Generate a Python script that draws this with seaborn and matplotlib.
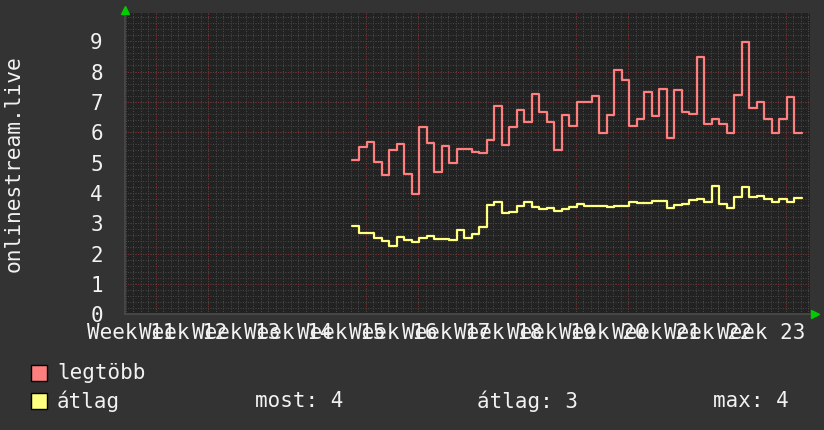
import numpy as np
import pandas as pd
import matplotlib
matplotlib.use("Agg")
import matplotlib.pyplot as plt
import seaborn as sns
from matplotlib.patches import Rectangle

# daily values (one step per day)
legtobb = [5.09, 5.50, 5.69, 5.01, 4.59, 5.42, 5.61, 4.63, 3.96, 6.16,
           5.64, 4.68, 5.56, 5.00, 5.45, 5.45, 5.36, 5.33, 5.75, 6.87,
           5.58, 6.16, 6.72, 6.35, 7.27, 6.65, 6.34, 5.42, 6.58, 6.21,
           6.98, 6.98, 7.18, 5.99, 6.57, 8.06, 7.73, 6.21, 6.43, 7.34,
           6.54, 7.44, 5.80, 7.38, 6.68, 6.61, 8.47, 6.27, 6.45, 6.27,
           5.99, 7.23, 8.96, 6.80, 7.01, 6.44, 5.99, 6.43, 7.16, 5.99]
atlag = [2.92, 2.69, 2.69, 2.50, 2.42, 2.26, 2.56, 2.45, 2.37, 2.52,
         2.59, 2.48, 2.48, 2.43, 2.79, 2.52, 2.63, 2.89, 3.60, 3.71,
         3.35, 3.38, 3.57, 3.69, 3.53, 3.47, 3.49, 3.41, 3.46, 3.55,
         3.62, 3.58, 3.58, 3.58, 3.54, 3.58, 3.58, 3.71, 3.67, 3.67,
         3.72, 3.72, 3.50, 3.61, 3.64, 3.78, 3.80, 3.71, 4.21, 3.63,
         3.49, 3.86, 4.19, 3.88, 3.90, 3.80, 3.71, 3.80, 3.71, 3.83]
week_labels = ["Week 11", "Week 12", "Week 13", "Week 14", "Week 15", "Week 16",
               "Week 17", "Week 18", "Week 19", "Week 20", "Week 21", "Week 22",
               "Week 23"]
series_names = ["legtöbb", "átlag"]
summary = ["most: 4", "átlag: 3", "max: 4"]

first_day = 26.1   # days after first week gridline
x_min, x_max = -4.13, 87.2

BG = "#333333"
CANVAS = "#222222"
TXT = "#f2f2f2"
RED = "#ff7f7f"
YEL = "#ffff80"

sns.set_theme(style="dark", rc={
    "figure.facecolor": BG,
    "axes.facecolor": CANVAS,
    "axes.edgecolor": "#555555",
    "text.color": TXT,
    "xtick.color": TXT,
    "ytick.color": TXT,
})
plt.rcParams["font.family"] = ["DejaVu Sans Mono", "DejaVu Sans"]

fig = plt.figure(figsize=(8.24, 4.30), dpi=100)
ax = fig.add_axes([125 / 824, (430 - 314.2) / 430, 685 / 824, 300.9 / 430])


def steps(vals):
    n = len(vals)
    return pd.DataFrame({
        "day": first_day + np.arange(n + 1),
        "val": np.append(vals, vals[-1]),
    })


# grid: minor gray dotted, major red dotted
dots = (0, (1, 1.5))
days = np.arange(-4, 88)
ax.vlines(days, 0, 10, colors="#474747", linestyles=dots, linewidth=0.72, zorder=1)
ax.hlines(np.arange(0, 10, 0.2), x_min, x_max, colors="#474747", linestyles=dots,
          linewidth=0.72, zorder=1)
ax.vlines(np.arange(0, 88, 7), 0, 10, colors="#703232", linestyles=dots, linewidth=0.72, zorder=2)
ax.hlines(np.arange(0, 10), x_min, x_max, colors="#703232", linestyles=dots,
          linewidth=0.72, zorder=2)

sns.lineplot(data=steps(legtobb), x="day", y="val", ax=ax, color=RED, lw=1.6,
             drawstyle="steps-post", zorder=3)
sns.lineplot(data=steps(atlag), x="day", y="val", ax=ax, color=YEL, lw=1.6,
             drawstyle="steps-post", zorder=3)

ax.set_xlim(x_min, x_max)
ax.set_ylim(0, 9.92)
ax.set_xlabel("")
ax.set_ylabel("")
ax.grid(False)

ax.set_yticks(range(10))
ax.set_yticklabels([str(i) for i in range(10)], fontsize=15)
ax.set_xticks(-3.33 + 7 * np.arange(len(week_labels)))
ax.set_xticklabels(week_labels, fontsize=15)
ax.tick_params(axis="both", length=0)
ax.tick_params(axis="y", pad=16)
ax.tick_params(axis="x", pad=6)

for side in ["top", "right"]:
    ax.spines[side].set_visible(False)
ax.spines["left"].set_color("#4a4a4a")
ax.spines["bottom"].set_color("#4a4a4a")

# little green arrows at axis ends
ax.plot([0], [1.01], marker="^", ms=6, color="#00cc00", transform=ax.transAxes,
        clip_on=False, zorder=5)
ax.plot([1.007], [0], marker=">", ms=6, color="#00cc00", transform=ax.transAxes,
        clip_on=False, zorder=5)

fig.text(14 / 824, 1 - 164 / 430, "onlinestream.live", rotation=90,
         ha="center", va="center", fontsize=15.3, color=TXT)

# legend
for i, (name, col) in enumerate(zip(series_names, [RED, YEL])):
    yc = 373 + 28 * i
    fig.patches.append(Rectangle((31 / 824, (430 - yc - 8) / 430), 16 / 824, 16 / 430,
                                 transform=fig.transFigure, facecolor=col,
                                 edgecolor="black", linewidth=1))
    fig.text(57 / 824, 1 - yc / 430, name, ha="left", va="center", fontsize=15, color=TXT)

for label, xpos in zip(summary, [255, 477, 713]):
    fig.text(xpos / 824, 1 - 401 / 430, label, ha="left", va="center", fontsize=15, color=TXT)

fig.savefig("out.png", dpi=100, facecolor=BG)
